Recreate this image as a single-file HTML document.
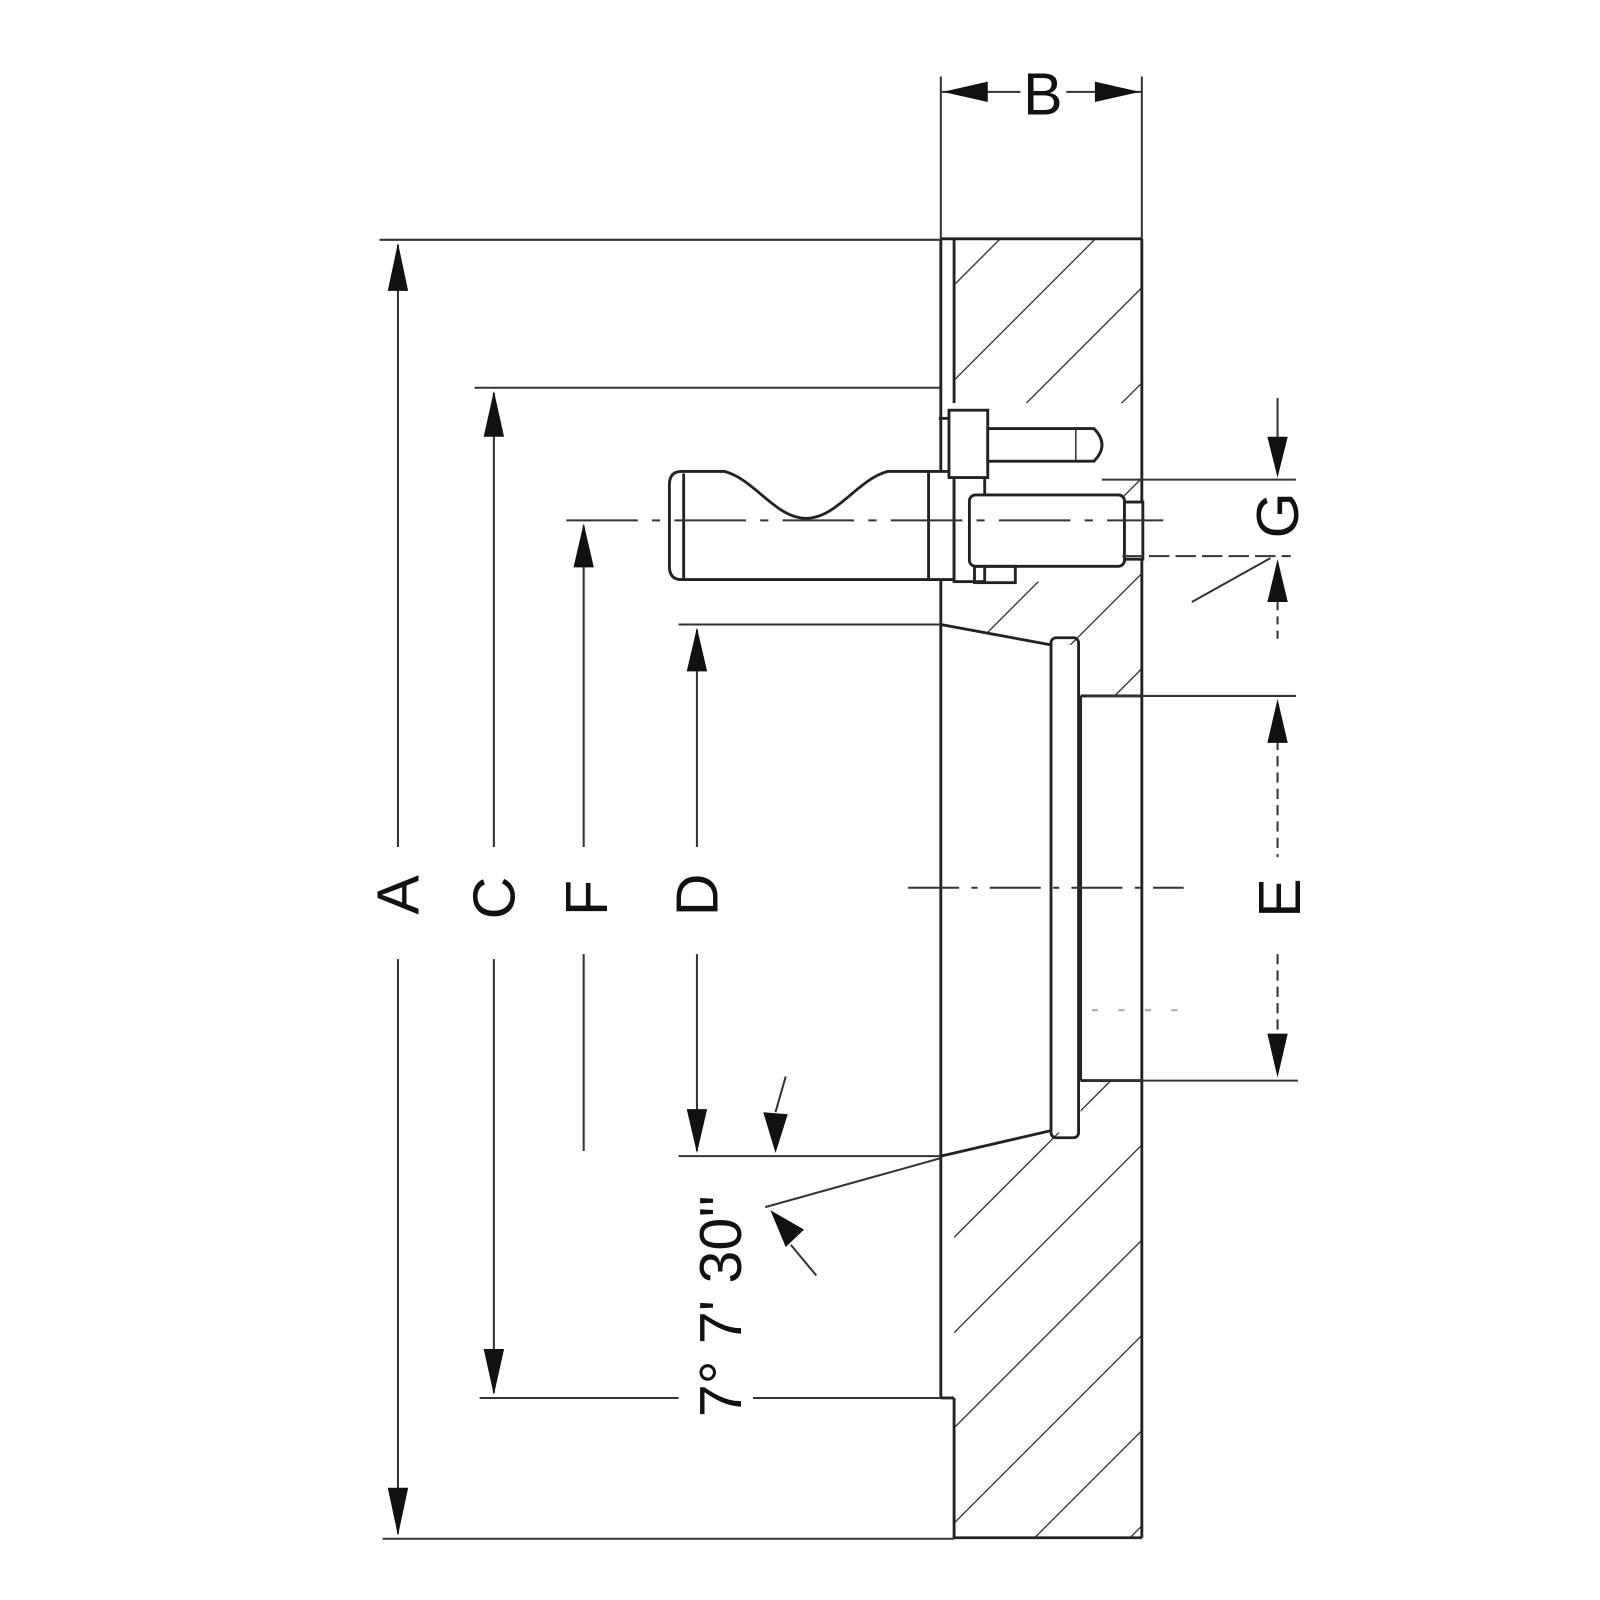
<!DOCTYPE html>
<html><head><meta charset="utf-8"><style>html,body{margin:0;padding:0;background:#fff}svg{display:block}</style></head>
<body>
<svg width="1600" height="1600" viewBox="0 0 1568 1568" xmlns="http://www.w3.org/2000/svg">
<defs>
<pattern id="h" patternUnits="userSpaceOnUse" width="66" height="66" patternTransform="rotate(45)">
<line x1="0" y1="0" x2="0" y2="66" stroke="#222" stroke-width="2.4"/>
</pattern>
</defs>
<g fill="none" stroke="#222" stroke-width="2.8">
<rect x="935" y="234" width="184" height="1272" fill="url(#h)" stroke="none"/>
<polygon points="920,395 1100,395 1100,570 920,570" fill="#fff" stroke="none"/>
<polygon points="920,612 1030,632 1059,632 1059,1110 1030,1110 920,1133" fill="#fff" stroke="none"/>
<rect x="1059" y="682" width="60" height="377" fill="#fff" stroke="none"/>
<rect x="920" y="612" width="15" height="758" fill="#fff" stroke="none"/>

<line x1="922" y1="234" x2="1119" y2="234"/>
<line x1="1119" y1="234" x2="1119" y2="1507"/>
<line x1="935" y1="1507" x2="1119" y2="1507"/>
<line x1="935" y1="1370" x2="935" y2="1507"/>
<line x1="922" y1="1370" x2="935" y2="1370"/>
<line x1="922" y1="234" x2="922" y2="1370"/>
<line x1="935" y1="234" x2="935" y2="395"/>
<line x1="922" y1="612" x2="1030" y2="632"/>
<line x1="922" y1="1133" x2="1030" y2="1108"/>
<rect x="1030" y="625" width="27" height="490" rx="5"/>
<line x1="1059" y1="682" x2="1119" y2="682"/>
<line x1="1059" y1="1059" x2="1119" y2="1059"/>
<line x1="1059" y1="682" x2="1059" y2="1059"/>

<path d="M668,462 L710,462 C740,470 760,508 790,508 C820,508 840,470 870,462 L935,462 L935,568 L668,568 Q656,568 656,555 L656,475 Q656,462 668,462 Z" fill="#fff"/>
<line x1="670" y1="464" x2="670" y2="567"/>
<line x1="910" y1="462" x2="910" y2="568"/>
<rect x="935" y="462" width="30" height="108" fill="#fff"/>
<rect x="950" y="485" width="152" height="70" rx="6" fill="#fff"/>
<rect x="1102" y="492" width="18" height="56" fill="#fff"/>
<rect x="955" y="555" width="40" height="16"/>
<rect x="930" y="402" width="38" height="66" fill="#fff"/>
<rect x="968" y="420" width="87" height="32" fill="#fff"/>
<path d="M1055,420 L1072,420 Q1088,436 1072,452 L1055,452" fill="#fff"/>
<line x1="920" y1="410" x2="930" y2="410"/>
</g>

<g fill="none" stroke="#333" stroke-width="2">
<line x1="555" y1="510" x2="1140" y2="510" stroke-dasharray="70,14,8,14"/>
<line x1="890" y1="870" x2="1160" y2="870" stroke-dasharray="50,12,6,12"/>
<line x1="1070" y1="990" x2="1160" y2="990" stroke-dasharray="6,20" stroke="#aaa"/>

<line x1="372" y1="235" x2="922" y2="235"/>
<line x1="375" y1="1508" x2="935" y2="1508"/>
<line x1="390" y1="240" x2="390" y2="830"/>
<line x1="390" y1="940" x2="390" y2="1503"/>
<line x1="465" y1="380" x2="922" y2="380"/>
<line x1="470" y1="1370" x2="665" y2="1370"/>
<line x1="738" y1="1370" x2="922" y2="1370"/>
<line x1="484" y1="385" x2="484" y2="830"/>
<line x1="484" y1="940" x2="484" y2="1365"/>
<line x1="572" y1="515" x2="572" y2="830"/>
<line x1="572" y1="935" x2="572" y2="1128"/>
<line x1="665" y1="612" x2="922" y2="612"/>
<line x1="665" y1="1133" x2="922" y2="1133"/>
<line x1="683" y1="617" x2="683" y2="830"/>
<line x1="683" y1="935" x2="683" y2="1128"/>
<line x1="770" y1="1055" x2="760" y2="1090"/>
<line x1="750" y1="1183" x2="922" y2="1135"/>
<line x1="800" y1="1250" x2="775" y2="1220"/>
<line x1="922" y1="75" x2="922" y2="234"/>
<line x1="1119" y1="75" x2="1119" y2="234"/>
<line x1="922" y1="90" x2="1000" y2="90"/>
<line x1="1045" y1="90" x2="1119" y2="90"/>
<line x1="1080" y1="470" x2="1270" y2="470"/>
<line x1="1100" y1="545" x2="1265" y2="545" stroke-dasharray="20,6"/>
<line x1="1252" y1="390" x2="1252" y2="430"/>
<line x1="1252" y1="590" x2="1252" y2="628" stroke-dasharray="8,6"/>
<line x1="1168" y1="590" x2="1245" y2="547"/>
<line x1="1065" y1="682" x2="1270" y2="682"/>
<line x1="1065" y1="1059" x2="1272" y2="1059"/>
<line x1="1252" y1="725" x2="1252" y2="840" stroke-dasharray="10,6"/>
<line x1="1252" y1="935" x2="1252" y2="1015" stroke-dasharray="10,6"/>
</g>

<g fill="#111" stroke="none">
<polygon points="390,238 380,285 400,285"/>
<polygon points="390,1505 380,1458 400,1458"/>
<polygon points="484,383 474,428 494,428"/>
<polygon points="484,1367 474,1322 494,1322"/>
<polygon points="572,513 562,556 582,556"/>
<polygon points="683,615 673,658 693,658"/>
<polygon points="683,1130 673,1087 693,1087"/>
<polygon points="760,1130 748,1090 772,1092"/>
<polygon points="755,1186 788,1205 770,1222"/>
<polygon points="924,90 968,80 968,100"/>
<polygon points="1117,90 1073,80 1073,100"/>
<polygon points="1252,468 1242,428 1262,428"/>
<polygon points="1252,548 1242,590 1262,590"/>
<polygon points="1252,685 1242,728 1262,728"/>
<polygon points="1252,1056 1242,1013 1262,1013"/>
</g>

<g font-family="Liberation Sans, sans-serif" font-size="58" fill="#111" text-anchor="middle" dominant-baseline="central">
<text x="1022" y="92">B</text>
<text transform="translate(390,877) rotate(-90)">A</text>
<text transform="translate(484,880) rotate(-90)">C</text>
<text transform="translate(575,880) rotate(-90)">F</text>
<text transform="translate(683,877) rotate(-90)">D</text>
<text transform="translate(1254,880) rotate(-90)">E</text>
<text transform="translate(1252,505) rotate(-90)">G</text>
<text transform="translate(706,1280) rotate(-90)">7° 7' 30''</text>
</g>
</svg>
</body></html>
